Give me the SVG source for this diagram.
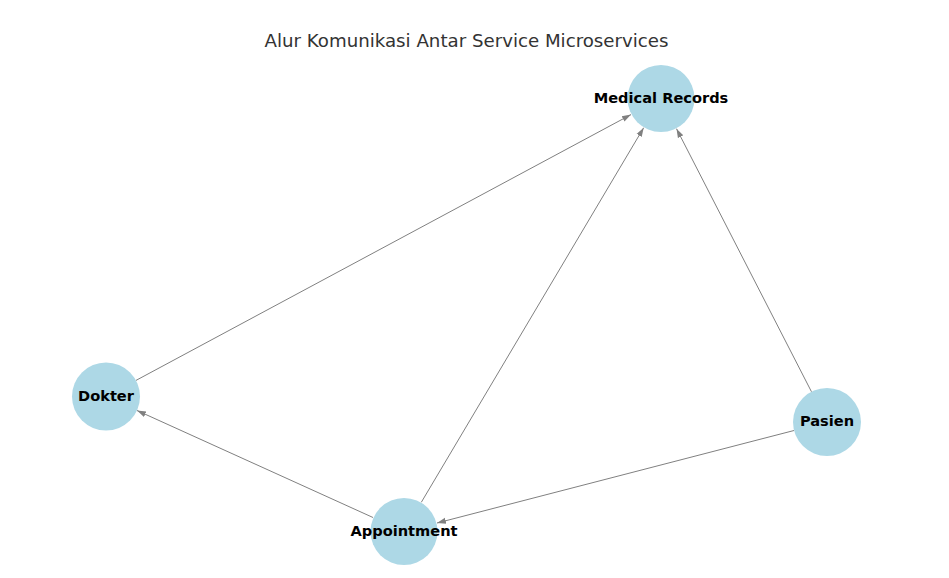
<svg xmlns="http://www.w3.org/2000/svg" width="949" height="578" viewBox="0 0 949 578">
<style>
.node{fill:#add8e6;}
.lbl{font-family:"DejaVu Sans",sans-serif;font-weight:bold;font-size:14.6px;fill:#000;text-anchor:middle;}
.edge{stroke:#808080;stroke-width:1;fill:none;marker-end:url(#arr);}
.title{font-family:"DejaVu Sans",sans-serif;font-size:18.2px;fill:#333;text-anchor:middle;}
</style>
<defs>
<marker id="arr" markerUnits="userSpaceOnUse" markerWidth="10" markerHeight="8" refX="9" refY="4" orient="auto" viewBox="0 0 10 8">
<path d="M0,1 L9,4 L0,7 Z" fill="#808080"/>
</marker>
</defs>
<rect width="949" height="578" fill="#fff"/>
<text class="title" x="466.5" y="47">Alur Komunikasi Antar Service Microservices</text>
<g id="edges">
<line class="edge" x1="136" y1="380.4" x2="631" y2="114.6"/>
<line class="edge" x1="421.3" y1="502.3" x2="643.7" y2="127.7"/>
<line class="edge" x1="811.5" y1="391.8" x2="676.5" y2="128.7"/>
<line class="edge" x1="794" y1="430.5" x2="437" y2="523"/>
<line class="edge" x1="373" y1="517.5" x2="137" y2="410.5"/>
</g>
<g id="node-medical-records"><circle class="node" cx="661" cy="98.5" r="33.5"/><text class="lbl" x="661" y="102.8">Medical Records</text></g>
<g id="node-dokter"><circle class="node" cx="106" cy="396.5" r="34"/><text class="lbl" x="106" y="400.8">Dokter</text></g>
<g id="node-appointment"><circle class="node" cx="404" cy="531.5" r="33.5"/><text class="lbl" x="404" y="535.8">Appointment</text></g>
<g id="node-pasien"><circle class="node" cx="827" cy="422" r="34"/><text class="lbl" x="827" y="426.3">Pasien</text></g>
</svg>
